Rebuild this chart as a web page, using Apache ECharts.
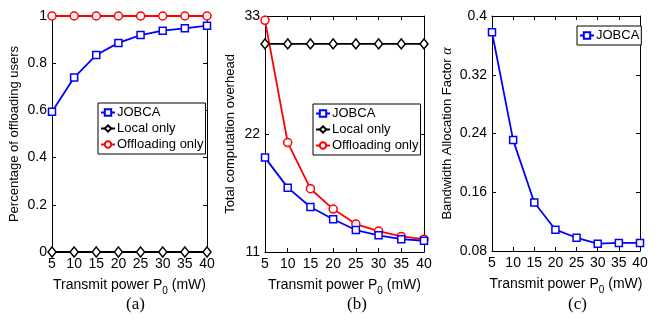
<!DOCTYPE html>
<html><head><meta charset="utf-8">
<script src="https://cdn.jsdelivr.net/npm/echarts@6/dist/echarts.min.js"></script>
<style>html,body{margin:0;padding:0;background:#fff}#c{width:659px;height:325px}</style>
</head><body><div id="c"></div>
<script>
const xPower = [5, 10, 15, 20, 25, 30, 35, 40];
const aJobca = [0.594, 0.739, 0.835, 0.886, 0.919, 0.938, 0.948, 0.959];
const aLocal = [0, 0, 0, 0, 0, 0, 0, 0];
const aOffload = [1, 1, 1, 1, 1, 1, 1, 1];
const bJobca = [19.8, 17.0, 15.2, 14.05, 13.05, 12.55, 12.2, 12.05];
const bLocal = [30.4, 30.4, 30.4, 30.4, 30.4, 30.4, 30.4, 30.4];
const bOffload = [32.6, 21.2, 16.9, 15.0, 13.6, 12.95, 12.45, 12.2];
const cJobca = [0.378, 0.231, 0.146, 0.109, 0.098, 0.090, 0.091, 0.091];
const captions = ['(a)', '(b)', '(c)'];
const names = { jobca: 'JOBCA', local: 'Local only', off: 'Offloading only' };

const FONT = 'Liberation Sans';
const pairs = ys => ys.map((y, i) => [xPower[i], y]);
const grids = [
  { left: 52, top: 16, width: 155, height: 236 },
  { left: 265, top: 16, width: 159, height: 236 },
  { left: 492, top: 16, width: 148, height: 235 }
];
const yCfg = [
  { min: 0, max: 1, interval: 0.2, name: 'Percentage of offloading users', gap: 31 },
  { min: 11, max: 33, interval: 11, name: 'Total computation overhead', gap: 28 },
  { min: 0.08, max: 0.4, interval: 0.08, name: 'Bandwidth Allocation Factor {a|α}', gap: 38 }
];
const xAxis = [], yAxis = [];
grids.forEach((g, i) => {
  xAxis.push({
    type: 'value', gridIndex: i, min: 5, max: 40, interval: 5,
    name: 'Transmit power P{s|0} (mW)', nameLocation: 'middle', nameGap: 23,
    nameTextStyle: { fontFamily: FONT, fontSize: 14, color: '#000',
      rich: { s: { fontFamily: FONT, fontSize: 10, color: '#000', padding: [11, 0, 0, 0] } } },
    axisLine: { lineStyle: { color: '#000', width: 1 } },
    axisTick: { inside: true, length: 4, lineStyle: { color: '#000' } },
    axisLabel: { fontFamily: FONT, fontSize: 14, color: '#000', margin: 5 },
    splitLine: { show: false }
  });
  xAxis.push({
    type: 'value', gridIndex: i, min: 5, max: 40, interval: 5, position: 'top',
    axisLine: { lineStyle: { color: '#000', width: 1 } },
    axisTick: { inside: true, length: 4, lineStyle: { color: '#000' } },
    axisLabel: { show: false }, splitLine: { show: false }
  });
  const c = yCfg[i];
  yAxis.push({
    type: 'value', gridIndex: i, min: c.min, max: c.max, interval: c.interval,
    name: c.name, nameLocation: 'middle', nameGap: c.gap,
    nameTextStyle: { fontFamily: FONT, fontSize: 13, color: '#000',
      rich: { a: { fontFamily: 'Liberation Serif', fontStyle: 'italic', fontSize: 14, color: '#000' } } },
    axisLine: { lineStyle: { color: '#000', width: 1 } },
    axisTick: { inside: true, length: 4, lineStyle: { color: '#000' } },
    axisLabel: { fontFamily: FONT, fontSize: 14, color: '#000', margin: 5,
      formatter: v => String(+v.toFixed(2)) },
    splitLine: { show: false }
  });
  yAxis.push({
    type: 'value', gridIndex: i, min: c.min, max: c.max, interval: c.interval, position: 'right',
    axisLine: { lineStyle: { color: '#000', width: 1 } },
    axisTick: { inside: true, length: 4, lineStyle: { color: '#000' } },
    axisLabel: { show: false }, splitLine: { show: false }
  });
});

function mk(name, data, gi, color, symbol, size) {
  return {
    type: 'line', name, data: pairs(data), xAxisIndex: gi * 2, yAxisIndex: gi * 2,
    symbol, symbolSize: size, showSymbol: true, animation: false,
    lineStyle: { color, width: 1.8 },
    itemStyle: { color: '#fff', borderColor: color, borderWidth: 1.5 },
    emphasis: { disabled: true }
  };
}
const series = [
  mk(names.local, aLocal, 0, '#000', 'diamond', [8, 10]),
  mk(names.off, aOffload, 0, '#ff0000', 'circle', 8),
  mk(names.jobca, aJobca, 0, '#0000ff', 'rect', 7),
  mk(names.local, bLocal, 1, '#000', 'diamond', [8, 10]),
  mk(names.off, bOffload, 1, '#ff0000', 'circle', 8),
  mk(names.jobca, bJobca, 1, '#0000ff', 'rect', 7),
  mk(names.jobca, cJobca, 2, '#0000ff', 'rect', 7)
];
const legBase = {
  orient: 'vertical', backgroundColor: '#fff', borderColor: '#000', borderWidth: 1,
  padding: [3, 2, 3, 2], itemGap: 3, itemWidth: 14, itemHeight: 8,
  textStyle: { fontFamily: FONT, fontSize: 13, color: '#000', padding: [0, 0, 0, -3] },
  selectedMode: false
};
const legend = [
  Object.assign({}, legBase, { left: 98, top: 103, data: [names.jobca, names.local, names.off] }),
  Object.assign({}, legBase, { left: 313, top: 104, data: [names.jobca, names.local, names.off] }),
  Object.assign({}, legBase, { left: 577, top: 26, data: [names.jobca] })
];
const capX = [126, 347, 568];
const graphic = captions.map((t, i) => ({
  type: 'text', left: capX[i], top: 296,
  style: { text: t, font: '17px "Liberation Serif"', fill: '#000', textAlign: 'center' }
}));
const chart = echarts.init(document.getElementById('c'), null, { renderer: 'canvas' });
chart.setOption({ animation: false, grid: grids, xAxis, yAxis, series, legend, graphic });
</script></body></html>
